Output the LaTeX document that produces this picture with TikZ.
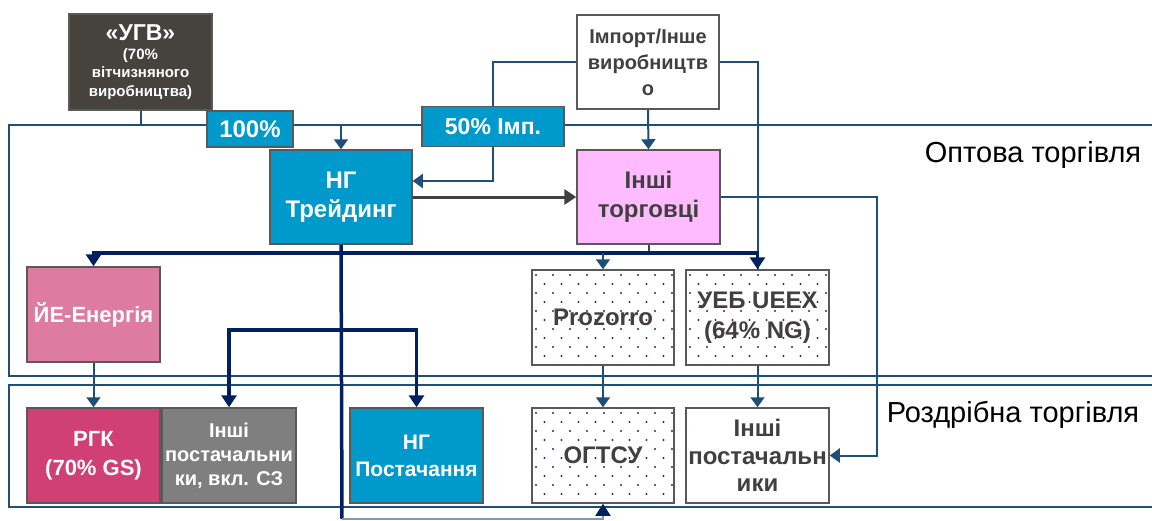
\documentclass[tikz,border=0pt]{standalone}
\usepackage{fontspec}
\setmainfont{Liberation Sans}
\usepackage{tikz}
\usetikzlibrary{arrows.meta, calc}
\definecolor{linkblue}{HTML}{1F4E79}
\definecolor{busnavy}{HTML}{002060}
\definecolor{boxline}{HTML}{595959}
\definecolor{ngblue}{HTML}{0099CC}
\definecolor{ugvgray}{HTML}{46423E}
\definecolor{traderpink}{HTML}{FFBBFF}
\definecolor{iepink}{HTML}{DE7BA0}
\definecolor{rgkpink}{HTML}{D04075}
\definecolor{supgray}{HTML}{7F7F7F}
\definecolor{textgray}{HTML}{404040}
\definecolor{dotred}{HTML}{6B1535}
\definecolor{palelink}{HTML}{8497B0}

\begin{document}
\begin{tikzpicture}[x=1pt, y=-1pt,
    box/.style={rectangle, draw=boxline, line width=1.5pt, fill=#1, inner sep=0pt, align=center, text=white},
    lightbox/.style={box=white, text=textgray},
    speckle/.style={lightbox, path picture={
        \foreach \r in {0,...,11}{
          \foreach \c in {0,...,9}{
            \fill[dotred] ([xshift={\c*17+mod(\r,2)*8.5+4}, yshift={-\r*9-5}]path picture bounding box.north west) circle[radius=1.2pt];
          }}}},
    big/.style={font=\bfseries\fontsize{24}{29}\selectfont},
    link/.style={draw=linkblue, line width=2pt},
    bus/.style={draw=busnavy, line width=3.5pt},
    frame/.style={draw=linkblue, line width=2pt},
    arrow/.style={-{Triangle[width=14pt,length=10pt]}},
    bigarrow/.style={-{Triangle[width=15pt,length=12pt]}},
    region/.style={font=\fontsize{29}{32}\selectfont, text=black}
]
\useasboundingbox (0,0) rectangle (1152,520);

% market segments
\draw[frame] (1152,125) -- (9,125) -- (9,376) -- (1152,376);
\draw[frame] (1152,385) -- (9,385) -- (9,507) -- (1152,507);
\node[region] (wholesale) at (1033,155) {Оптова торгівля};
\node[region] (retail) at (1013,415) {Роздрібна торгівля};

% sources
\node[box=ugvgray, minimum width=143, minimum height=96, font=\bfseries\fontsize{15}{18.5}\selectfont] (ugv) at (140.5,62)
  {{\fontsize{23}{25}\selectfont «УГВ»}\\(70\%\\вітчизняного\\виробництва)};
\node[lightbox, minimum width=142, minimum height=94, font=\bfseries\fontsize{20}{26}\selectfont] (import) at (648,62)
  {Імпорт/Інше\\виробництв\\о};
\node[box=ngblue, minimum width=86, minimum height=36, big] (share100) at (250,129) {100\%};
\node[box=ngblue, minimum width=142, minimum height=40, font=\bfseries\fontsize{23}{27}\selectfont] (shareimp) at (493,126.5) {50\% Імп.};

% wholesale
\node[box=ngblue, minimum width=142, minimum height=94, big] (ngtrade) at (341,197) {НГ\\Трейдинг};
\node[box=traderpink, text=textgray, minimum width=143, minimum height=94, big] (traders) at (648.5,197) {Інші\\торговці};
\node[box=iepink, minimum width=133, minimum height=95, font=\bfseries\fontsize{22}{26}\selectfont] (ie) at (93.5,314.5) {ЙЕ-Енергія};
\node[speckle, minimum width=142, minimum height=95, big] (prozorro) at (603,317.5) {Prozorro};
\node[speckle, minimum width=143, minimum height=95, font=\bfseries\fontsize{24}{30}\selectfont] (ueex) at (757.5,317.5) {УЕБ UEEX\\(64\% NG)};

% retail
\node[box=rgkpink, minimum width=133, minimum height=95, font=\bfseries\fontsize{22}{29}\selectfont] (rgk) at (93.5,455.5) {РГК\\(70\% GS)};
\node[box=supgray, minimum width=134, minimum height=95, font=\bfseries\fontsize{20}{24}\selectfont] (othsup) at (229,455.5) {Інші\\постачальни\\ки, вкл. СЗ};
\node[box=ngblue, minimum width=133, minimum height=95, font=\bfseries\fontsize{21}{27}\selectfont] (ngsup) at (416.5,455.5) {НГ\\Постачання};
\node[speckle, minimum width=142, minimum height=95, big] (ogtsu) at (603,455.5) {ОГТСУ};
\node[lightbox, minimum width=143, minimum height=95, font=\bfseries\fontsize{24}{27.5}\selectfont] (suppliers) at (757.5,455.5) {Інші\\постачальн\\ики};

\coordinate (ugvdrop) at (140.5,125);
\coordinate (tradebus) at (342,253);
\coordinate (supbus) at (342,330);
\coordinate (bottomrun) at (342,519);
\coordinate (rightrun) at (877,197);

% connectors
\draw[link] (ugv.south) -- (ugvdrop);
\draw[link, arrow] (share100.east |- ugvdrop) -| (ngtrade.north);
\draw[link] (import.west) -| (shareimp.north);
\draw[link, arrow] (shareimp.south) |- ($(ngtrade.east)+(0,-16)$);
\draw[link, arrow] (import.south) -- (traders.north);
\draw[link] (import.east) -| (ueex.north);
\draw[draw=textgray, line width=3pt, bigarrow] (ngtrade.east) -- (traders.west);
\draw[link, arrow] (traders.east) -- (rightrun) |- (suppliers.east);

\draw[link] (traders.south) -- (traders.south |- tradebus);
\draw[bus] (ngtrade.south) -- (bottomrun);
\draw[bus, bigarrow] (tradebus) -| (ie.north);
\draw[bus, bigarrow] (tradebus) -| (ueex.north);
\draw[link, arrow] (prozorro.north |- tradebus) -- (prozorro.north);
\draw[bus, bigarrow] (supbus) -| (othsup.north);
\draw[bus, bigarrow] (supbus) -| (ngsup.north);
\draw[draw=palelink, line width=1.5pt, -{Triangle[width=15pt,length=12pt,color=busnavy]}] (bottomrun) -| (ogtsu.south);

\draw[link, arrow] (ie.south) -- (rgk.north);
\draw[link, arrow] (prozorro.south) -- (ogtsu.north);
\draw[link, arrow] (ueex.south) -- (suppliers.north);
\end{tikzpicture}
\end{document}
